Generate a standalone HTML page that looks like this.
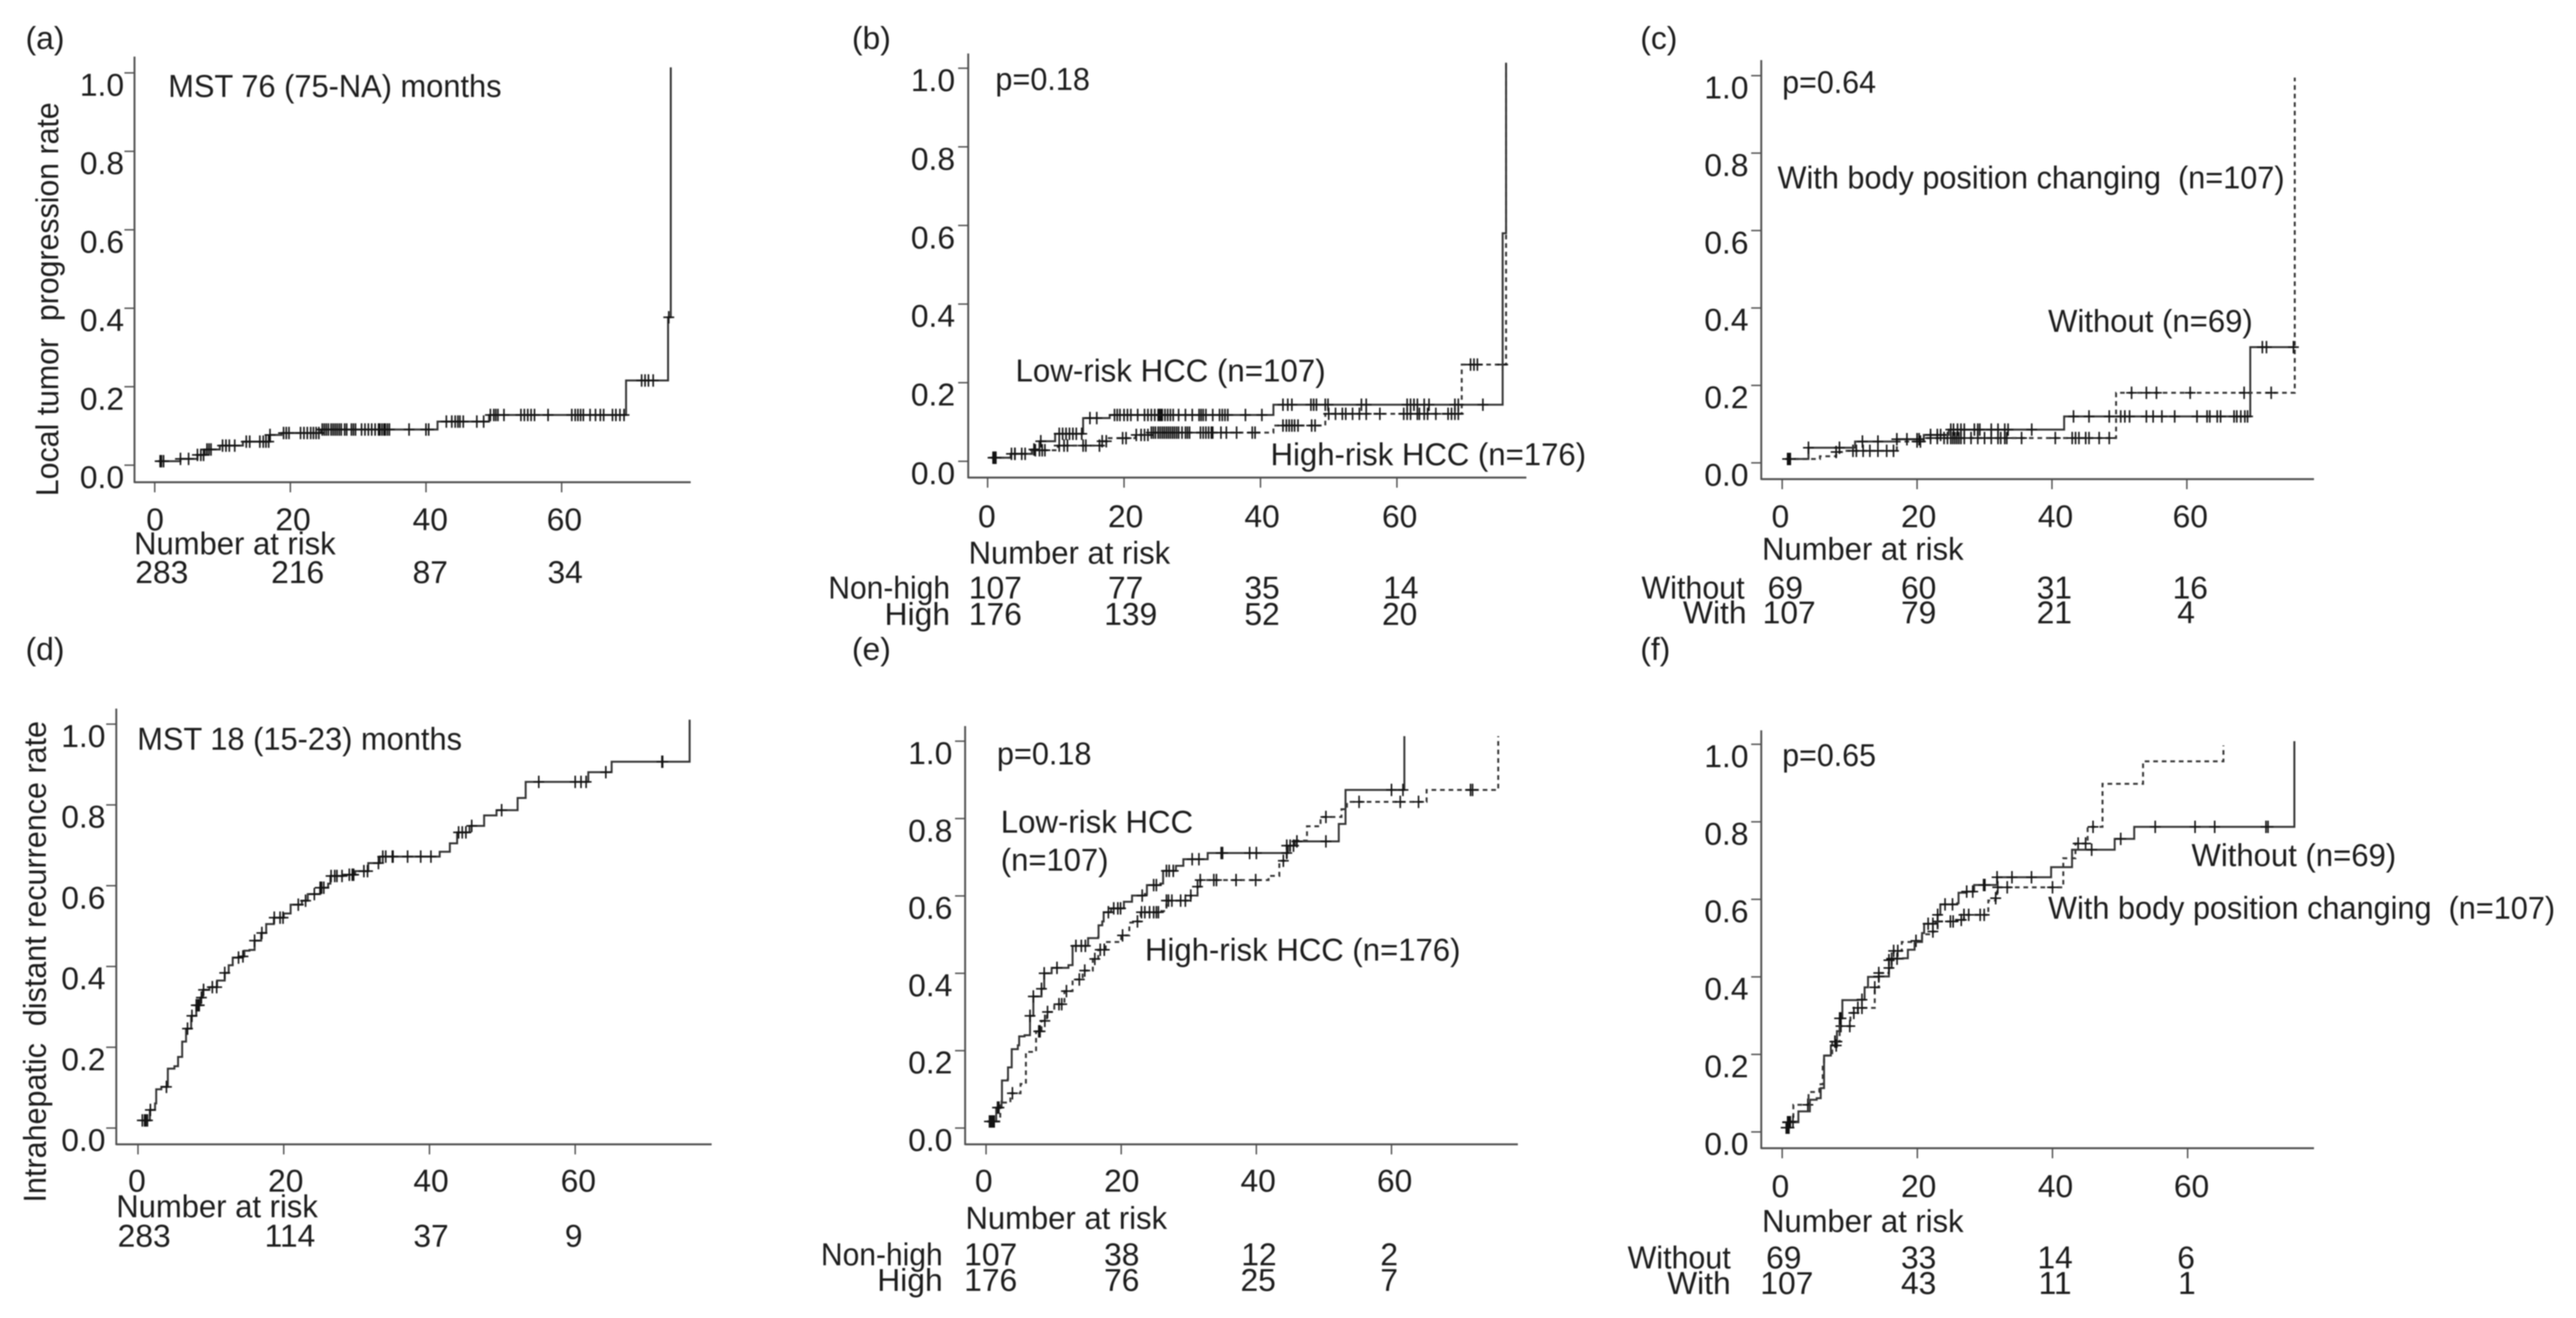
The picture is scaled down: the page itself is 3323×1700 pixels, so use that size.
<!DOCTYPE html>
<html lang="en">
<head>
<meta charset="utf-8">
<title>Cumulative incidence curves</title>
<style>
html,body{margin:0;padding:0;background:#fff;}
#figure{display:block;width:3323px;height:1700px;filter:blur(0.9px);}
text{font-family:"Liberation Sans",Arial,sans-serif;font-size:41px;fill:#1c1c1c;white-space:pre;}
</style>
</head>
<body>
<svg id="figure" xmlns="http://www.w3.org/2000/svg" width="3323" height="1700" viewBox="0 0 3323 1700">
  <rect width="3323" height="1700" fill="#fff"/>

  <text x="33" y="63">(a)</text>
  <text x="1099" y="63">(b)</text>
  <text x="2116" y="63">(c)</text>
  <text x="33" y="851">(d)</text>
  <text x="1099" y="851">(e)</text>
  <text x="2116" y="851">(f)</text>

  <text transform="translate(75,640) rotate(-90)" textLength="508" lengthAdjust="spacingAndGlyphs">Local tumor  progression rate</text>
  <text transform="translate(59,1551) rotate(-90)" textLength="621" lengthAdjust="spacingAndGlyphs">Intrahepatic  distant recurrence rate</text>

  <text x="217" y="125" textLength="430" lengthAdjust="spacingAndGlyphs">MST 76 (75-NA) months</text>
  <text x="1284" y="116" textLength="122" lengthAdjust="spacingAndGlyphs">p=0.18</text>
  <text x="1310" y="492" textLength="400" lengthAdjust="spacingAndGlyphs">Low-risk HCC (n=107)</text>
  <text x="1639" y="600" textLength="407" lengthAdjust="spacingAndGlyphs">High-risk HCC (n=176)</text>
  <text x="2299" y="120" textLength="121" lengthAdjust="spacingAndGlyphs">p=0.64</text>
  <text x="2293" y="243" textLength="654" lengthAdjust="spacingAndGlyphs">With body position changing  (n=107)</text>
  <text x="2642" y="428" textLength="264" lengthAdjust="spacingAndGlyphs">Without (n=69)</text>
  <text x="177" y="967" textLength="419" lengthAdjust="spacingAndGlyphs">MST 18 (15-23) months</text>
  <text x="1286" y="986" textLength="122" lengthAdjust="spacingAndGlyphs">p=0.18</text>
  <text x="1291" y="1074" textLength="248" lengthAdjust="spacingAndGlyphs">Low-risk HCC</text>
  <text x="1291" y="1123" textLength="139" lengthAdjust="spacingAndGlyphs">(n=107)</text>
  <text x="1477" y="1239" textLength="407" lengthAdjust="spacingAndGlyphs">High-risk HCC (n=176)</text>
  <text x="2299" y="988" textLength="121" lengthAdjust="spacingAndGlyphs">p=0.65</text>
  <text x="2827" y="1117" textLength="264" lengthAdjust="spacingAndGlyphs">Without (n=69)</text>
  <text x="2642" y="1185" textLength="654" lengthAdjust="spacingAndGlyphs">With body position changing  (n=107)</text>
</svg>

<script>
// Shared axis values
const xTickValues = [0, 20, 40, 60];
const xTickLabels = ['0', '20', '40', '60'];
const yTickValues = [0, 0.2, 0.4, 0.6, 0.8, 1];
const yTickLabels = ['0.0', '0.2', '0.4', '0.6', '0.8', '1.0'];

// Panel (a)
const aTimes = [0.5, 3.8, 6.3, 7.4, 9.6, 13, 17, 18.7, 24.5, 41.7, 49.3, 69.5, 75.7, 76.1];
const aRates = [0.01, 0.016, 0.026, 0.04, 0.05, 0.06, 0.077, 0.082, 0.091, 0.111, 0.128, 0.216, 0.377, 1.014];
const aCensored = [0.8, 1, 1.3, 3.8, 5, 6.3, 6.8, 7.2, 7.7, 8, 8.3, 10, 10.5, 11, 11.8, 13.5, 14, 15.5, 16, 16.4, 16.8, 17, 19, 19.4, 19.8, 21.5, 22, 22.5, 23, 23.4, 23.8, 24.2, 24.7, 25, 25.3, 25.6, 26, 26.3, 26.6, 26.9, 27.2, 27.5, 28, 28.3, 29, 29.3, 29.6, 30.5, 31, 31.5, 32, 32.5, 33, 33.2, 33.5, 33.8, 34, 34.3, 34.6, 37.5, 40, 40.4, 43, 43.8, 44.3, 44.7, 45, 45.5, 47.5, 48.5, 49.5, 50, 50.3, 50.6, 51.5, 54, 54.5, 55, 55.5, 56, 58, 61.5, 62, 62.4, 62.8, 63.2, 64.2, 65, 65.7, 66.2, 67.5, 68, 68.6, 69.2, 71.8, 72.3, 72.8, 73.5, 75.8];
const aRisk = [283, 216, 87, 34];

// Panel (b)
const bLowTimes = [0.5, 3.4, 6.5, 7.6, 9.9, 14, 17.9, 41.9, 75.5, 76];
const bLowRates = [0.009, 0.019, 0.03, 0.051, 0.07, 0.11, 0.118, 0.144, 0.58, 1.014];
const bLowCensored = [0.8, 1, 1.2, 3.5, 4, 5, 6.8, 7.8, 10.5, 11, 11.5, 12, 12.5, 13, 13.8, 15, 16, 18.6, 19, 19.4, 20, 20.5, 21, 22, 23, 23.5, 24, 24.5, 25, 25.2, 25.4, 25.6, 26, 26.4, 26.8, 27.2, 28, 29, 30, 31, 31.3, 31.6, 32, 33, 34, 34.4, 34.8, 35.2, 37.8, 40.2, 43.3, 44, 44.6, 47.4, 47.8, 48.2, 49.5, 49.9, 54.8, 55.5, 61.5, 62, 62.5, 63, 64, 64.7, 68.5, 69, 72.6];
const bHighTimes = [0.5, 3.4, 6.5, 10.3, 16.8, 17.5, 21.7, 24, 41.9, 49.5, 69.5, 76];
const bHighRates = [0.009, 0.019, 0.028, 0.04, 0.051, 0.059, 0.067, 0.073, 0.091, 0.121, 0.246, 1.014];
const bHighCensored = [1, 1.2, 4, 5.5, 7, 7.6, 8, 8.4, 10.5, 11.2, 11.7, 14, 14.4, 16.4, 16.8, 17.4, 19.8, 20.3, 21.8, 22.5, 23, 23.5, 24, 24.3, 24.6, 25, 25.3, 25.6, 25.9, 26.2, 26.5, 26.8, 27.1, 27.4, 27.7, 28, 28.5, 29, 29.3, 29.6, 31.2, 31.6, 32, 32.4, 32.8, 33, 34.2, 35, 36.5, 38.8, 39.2, 43.3, 43.8, 44.2, 44.6, 45, 45.5, 47.5, 48, 50, 51, 52, 52.5, 53.5, 54.5, 55.5, 57.5, 61, 61.5, 62, 63, 63.3, 64, 64.5, 65.7, 67.5, 68, 68.5, 69, 70.8, 71.3, 71.8, 75.5];
const bRiskLow = [107, 77, 35, 14];
const bRiskHigh = [176, 139, 52, 20];

// Panel (c)
const cWithoutTimes = [0.5, 3.9, 10.8, 17, 21, 24.7, 41.8, 69.4, 76.2];
const cWithoutRates = [0.01, 0.039, 0.055, 0.061, 0.072, 0.086, 0.12, 0.299, 0.299];
const cWithoutCensored = [1, 1.2, 3.9, 8.5, 11.9, 14.2, 17, 18.5, 20, 20.3, 22, 23, 23.5, 25, 25.4, 26, 26.5, 27, 28.5, 29, 29.3, 31, 32, 33, 33.5, 37, 43.2, 45.5, 48.5, 50.2, 50.8, 51.5, 54, 55, 56.3, 58.2, 61.5, 63, 63.4, 64.5, 65, 67, 67.4, 68, 68.6, 69, 71.2, 71.8, 75.8];
const cWithTimes = [0.5, 5.6, 8, 9.4, 17, 21, 49.5, 76];
const cWithRates = [0.01, 0.017, 0.028, 0.031, 0.055, 0.064, 0.181, 0.995];
const cWithCensored = [0.8, 1, 1.2, 8, 10.5, 11, 12, 13, 14.2, 15.5, 16.5, 20, 20.5, 22, 23, 24, 24.5, 25, 25.3, 25.6, 25.9, 26.2, 26.5, 27, 28, 29, 30, 31, 32, 32.4, 33, 33.3, 35.5, 40.5, 43, 43.5, 44, 45, 45.5, 47, 48.5, 51.8, 54, 55.5, 60.5, 68.5, 72.5];
const cRiskWithout = [69, 60, 31, 16];
const cRiskWith = [107, 79, 21, 4];

// Panel (d)
const dTimes = [0.57, 1.63, 2.34, 2.5, 3.2, 4.1, 5, 5.5, 6.06, 6.6, 7.3, 8, 8.55, 8.9, 9.8, 10.85, 11.9, 12.45, 13, 14.2, 14.6, 15.3, 16, 16.9, 17.6, 18.65, 20, 20.95, 22.5, 23.3, 25, 26.1, 26.4, 28.2, 29.8, 31.6, 33.2, 41.4, 42.8, 43.8, 45.5, 47.5, 49.2, 52.1, 53.2, 61.8, 65, 75.7];
const dRates = [0.019, 0.045, 0.061, 0.096, 0.102, 0.147, 0.153, 0.176, 0.214, 0.246, 0.278, 0.304, 0.323, 0.342, 0.349, 0.365, 0.384, 0.403, 0.422, 0.425, 0.439, 0.441, 0.464, 0.483, 0.505, 0.521, 0.531, 0.553, 0.563, 0.579, 0.595, 0.605, 0.624, 0.627, 0.636, 0.656, 0.672, 0.684, 0.705, 0.732, 0.748, 0.774, 0.787, 0.817, 0.857, 0.881, 0.907, 1.011];
const dCensored = [0.6, 0.9, 1.1, 1.3, 1.7, 3.9, 6.8, 7.4, 8, 8.2, 8.4, 8.7, 9, 10.2, 10.8, 11.9, 13.8, 14.4, 16, 17, 18.7, 19.5, 19.9, 22, 23, 24.2, 25, 25.2, 25.5, 26.5, 27, 27.3, 28, 29, 29.4, 29.6, 31, 31.5, 33, 33.6, 34, 34.9, 35, 37, 38.8, 40.2, 44, 44.5, 45, 45.8, 49.9, 55, 60, 60.8, 61.5, 64.2, 71.9, 72];
const dRisk = [283, 114, 37, 9];

// Panel (e)
const eLowTimes = [0.15, 1.5, 2.3, 2.35, 3.2, 3.25, 3.8, 4.7, 4.9, 5.7, 6.5, 7, 8.2, 8.6, 9.7, 12.2, 12.8, 15.1, 16.6, 16.65, 17.2, 17.4, 18.5, 20.4, 21.6, 23.5, 23.8, 25.8, 26.2, 28.1, 29.2, 32.8, 44.7, 45.7, 52.2, 53.2, 61.9];
const eLowRates = [0.017, 0.053, 0.069, 0.123, 0.126, 0.157, 0.204, 0.214, 0.237, 0.24, 0.29, 0.34, 0.36, 0.4, 0.414, 0.421, 0.471, 0.491, 0.494, 0.524, 0.534, 0.558, 0.568, 0.585, 0.601, 0.605, 0.628, 0.632, 0.665, 0.678, 0.695, 0.711, 0.73, 0.741, 0.786, 0.874, 1.013];
const eLowCensored = [0.7, 1, 1.2, 1.7, 1.9, 6.5, 7, 8.2, 8.6, 10.5, 13.3, 14.1, 14.7, 18.1, 18.9, 19.5, 19.9, 23.1, 24.8, 25.2, 26.7, 27.1, 27.7, 30.5, 31.5, 34.8, 35, 39, 40, 44.5, 45, 45.5, 46, 50.3, 60, 61.7];
const eHighTimes = [0.15, 2.1, 3.6, 5.1, 5.9, 7.4, 8.2, 9, 10.1, 11.6, 12.8, 14.3, 15.8, 16.6, 17.7, 20, 21.2, 22.3, 22.9, 25.8, 26.7, 30.3, 31.3, 31.7, 41.8, 43.4, 44.5, 45.7, 47.5, 49.5, 52.6, 53.4, 65.2, 75.8];
const eHighRates = [0.017, 0.066, 0.09, 0.114, 0.197, 0.25, 0.277, 0.3, 0.32, 0.354, 0.384, 0.407, 0.437, 0.461, 0.481, 0.498, 0.531, 0.534, 0.558, 0.561, 0.588, 0.601, 0.624, 0.641, 0.652, 0.691, 0.73, 0.743, 0.78, 0.804, 0.824, 0.843, 0.874, 1.013];
const eHighCensored = [0.5, 0.8, 1, 3.9, 7.8, 8, 8.7, 9.1, 10.8, 11.2, 11.9, 13.8, 14.6, 16.1, 16.9, 17.5, 20.2, 22.4, 23, 23.5, 24.2, 24.8, 25.2, 25.5, 26.7, 27, 27.5, 28.8, 29.5, 30.3, 31.3, 31.7, 33.7, 34.1, 37, 39.9, 44, 44.5, 50.3, 55.2, 61.3, 64, 71.7, 72];
const eRiskLow = [107, 38, 12, 2];
const eRiskHigh = [176, 76, 25, 7];

// Panel (f)
const fWithoutTimes = [0.1, 2.4, 4.1, 5.1, 5.7, 6.2, 7.2, 8.1, 8.5, 8.9, 11.2, 12.2, 12.7, 14.3, 15.8, 16.2, 17.9, 18.6, 19.6, 20.7, 21, 22.7, 23, 23.4, 25.9, 26.1, 27.3, 28.4, 31.8, 39.8, 42.9, 49.2, 52.1, 75.8];
const fWithoutRates = [0.025, 0.053, 0.083, 0.087, 0.113, 0.197, 0.223, 0.26, 0.293, 0.34, 0.341, 0.373, 0.4, 0.401, 0.423, 0.447, 0.448, 0.47, 0.49, 0.513, 0.537, 0.54, 0.56, 0.587, 0.59, 0.617, 0.62, 0.637, 0.657, 0.683, 0.728, 0.756, 0.787, 1.008];
const fWithoutCensored = [0.8, 1, 1.2, 8, 8.5, 8.7, 11.8, 14.3, 15.8, 16.2, 17, 21.6, 22.3, 23, 24.1, 25.2, 27.3, 28.2, 29.8, 30, 31.8, 34, 36.9, 45.8, 50.1, 55.2, 61.1, 64, 71.6, 71.9];
const fWithTimes = [0.6, 1.07, 1.65, 3.9, 5.5, 6, 6.2, 7.4, 8.5, 10.1, 11.2, 13.7, 14.3, 15.8, 16.5, 17.7, 19.8, 20.7, 22.3, 23, 25.7, 26.9, 30.5, 31.6, 31.8, 41.6, 43.4, 45.2, 47.4, 53.4, 65.3];
const fWithRates = [0.011, 0.027, 0.07, 0.103, 0.123, 0.18, 0.197, 0.233, 0.273, 0.307, 0.32, 0.373, 0.41, 0.443, 0.467, 0.49, 0.493, 0.51, 0.517, 0.543, 0.547, 0.56, 0.597, 0.603, 0.631, 0.706, 0.744, 0.787, 0.898, 0.956, 0.997];
const fWithCensored = [0.6, 0.8, 1, 1.6, 3.8, 7.8, 8.1, 8.7, 10, 10.6, 11.2, 11.8, 13.7, 14.3, 15.8, 16.5, 17.1, 19.8, 22.3, 23, 24.9, 25.3, 26.5, 26.9, 27.6, 29.3, 29.9, 31.6, 31.9, 33.3, 40, 43.8, 44.9, 46];
const fRiskWithout = [69, 33, 14, 6];
const fRiskWith = [107, 43, 11, 1];

const svgNS = 'http://www.w3.org/2000/svg';
const svgRoot = document.getElementById('figure');
const INK = '#333333';
const AXIS_INK = '#4d4d4d';

function makeLine(parent, x1, y1, x2, y2, width) {
  const el = document.createElementNS(svgNS, 'line');
  el.setAttribute('x1', x1);
  el.setAttribute('y1', y1);
  el.setAttribute('x2', x2);
  el.setAttribute('y2', y2);
  el.setAttribute('stroke', AXIS_INK);
  el.setAttribute('stroke-width', width);
  parent.appendChild(el);
  return el;
}

function makeText(parent, str, x, y, anchor) {
  const el = document.createElementNS(svgNS, 'text');
  el.setAttribute('x', x);
  el.setAttribute('y', y);
  el.setAttribute('text-anchor', anchor);
  el.textContent = str;
  parent.appendChild(el);
  return el;
}

function rateAt(times, rates, t) {
  let r = rates[0];
  for (let i = 0; i < times.length; i++) {
    if (times[i] <= t) r = rates[i];
  }
  return r;
}

function drawSeries(group, times, rates, censored, xs, ys, dashed, seriesName) {
  let d = 'M' + xs(times[0]).toFixed(1) + ' ' + ys(rates[0]).toFixed(1);
  for (let i = 1; i < times.length; i++) {
    d += 'H' + xs(times[i]).toFixed(1) + 'V' + ys(rates[i]).toFixed(1);
  }
  const path = document.createElementNS(svgNS, 'path');
  
  
  path.setAttribute('d', d);
  path.setAttribute('fill', 'none');
  path.setAttribute('stroke', INK);
  path.setAttribute('stroke-width', '2.5');
  if (dashed) path.setAttribute('stroke-dasharray', '6 5');
  group.appendChild(path);

  censored.forEach(function (t) {
    const cx = xs(t);
    const cy = ys(rateAt(times, rates, t));
    const mark = document.createElementNS(svgNS, 'path');
    
    
    mark.setAttribute('d', 'M' + (cx - 7).toFixed(1) + ' ' + cy.toFixed(1) + 'h14M' + cx.toFixed(1) + ' ' + (cy - 8).toFixed(1) + 'v16');
    mark.setAttribute('stroke', '#111');
    mark.setAttribute('stroke-width', '2');
    mark.setAttribute('fill', 'none');
    group.appendChild(mark);
  });
}

function drawPanel(cfg) {
  const group = document.createElementNS(svgNS, 'g');
  
  
  svgRoot.appendChild(group);

  const xs = function (t) { return cfg.x0 + (cfg.x60 - cfg.x0) * t / 60; };
  const ys = function (r) { return cfg.y0 + (cfg.y1 - cfg.y0) * r; };

  const yAxis = makeLine(group, cfg.axisX, cfg.axisTop, cfg.axisX, cfg.axisY + 1, 2.4);
  
  
  const xAxis = makeLine(group, cfg.axisX, cfg.axisY, cfg.axisRight, cfg.axisY, 2.4);
  
  

  yTickValues.forEach(function (v, i) {
    const tick = makeLine(group, cfg.axisX - 13, ys(v), cfg.axisX, ys(v), 1.8);
    
    
    const lab = makeText(group, yTickLabels[i], cfg.yLabelRight + 1, ys(v) + 29.5, 'end');
    
    
  });

  xTickValues.forEach(function (v, i) {
    const tick = makeLine(group, xs(v), cfg.axisY, xs(v), cfg.axisY + 13, 1.8);
    
    
    const lab = makeText(group, xTickLabels[i], cfg.xLabelCx[i], cfg.xLabelY, 'middle');
    
    
  });

  const title = makeText(group, 'Number at risk', cfg.riskTitleX, cfg.riskTitleY, 'start');
  
  
  title.setAttribute('textLength', '260');
  title.setAttribute('lengthAdjust', 'spacingAndGlyphs');

  cfg.rows.forEach(function (row) {
    if (row.label) {
      const rowLabel = makeText(group, row.label, row.labelRight, row.y, 'end');
      
      
      if (row.labelWidth) {
        rowLabel.setAttribute('textLength', row.labelWidth);
        rowLabel.setAttribute('lengthAdjust', 'spacingAndGlyphs');
      }
    }
    row.values.forEach(function (v, i) {
      const cell = makeText(group, String(v), row.cx[i], row.y, 'middle');
      
      
    });
  });

  cfg.series.forEach(function (s) {
    drawSeries(group, s.times, s.rates, s.censored, xs, ys, s.dashed, s.name);
  });
}

drawPanel({
  id: 'a', x0: 199.6, x60: 724.5, y0: 600, y1: 94,
  axisX: 173.5, axisTop: 73, axisY: 622, axisRight: 891,
  yLabelRight: 159, xLabelY: 684, xLabelCx: [200, 378, 555, 728],
  riskTitleX: 173, riskTitleY: 715,
  rows: [{ values: aRisk, y: 752, cx: [208.7, 384, 555, 729] }],
  series: [{ name: 'all-patients-a', times: aTimes, rates: aRates, censored: aCensored, dashed: false }]
});

drawPanel({
  id: 'b', x0: 1274, x60: 1802, y0: 595, y1: 88,
  axisX: 1249, axisTop: 69, axisY: 616, axisRight: 1969,
  yLabelRight: 1231, xLabelY: 680, xLabelCx: [1273, 1452, 1628, 1805.5],
  riskTitleX: 1249.5, riskTitleY: 727,
  rows: [
    { label: 'Non-high', labelRight: 1225.5, labelWidth: 157, values: bRiskLow, y: 772, cx: [1284, 1452, 1628, 1807] },
    { label: 'High', labelRight: 1225.5, values: bRiskHigh, y: 806, cx: [1284, 1458.6, 1628, 1805.5] }
  ],
  series: [
    { name: 'high-risk-b', times: bHighTimes, rates: bHighRates, censored: bHighCensored, dashed: true },
    { name: 'low-risk-b', times: bLowTimes, rates: bLowRates, censored: bLowCensored, dashed: false }
  ]
});

drawPanel({
  id: 'c', x0: 2299, x60: 2821, y0: 597, y1: 97.6,
  axisX: 2272, axisTop: 77.5, axisY: 618, axisRight: 2985,
  yLabelRight: 2254.5, xLabelY: 680, xLabelCx: [2296.6, 2475, 2651.5, 2825.4],
  riskTitleX: 2273, riskTitleY: 722,
  rows: [
    { label: 'Without', labelRight: 2250.5, labelWidth: 133, values: cRiskWithout, y: 772, cx: [2303, 2475, 2650, 2825.4] },
    { label: 'With', labelRight: 2253, values: cRiskWith, y: 804, cx: [2308, 2475, 2650, 2820] }
  ],
  series: [
    { name: 'with-position-change-c', times: cWithTimes, rates: cWithRates, censored: cWithCensored, dashed: true },
    { name: 'without-position-change-c', times: cWithoutTimes, rates: cWithoutRates, censored: cWithoutCensored, dashed: false }
  ]
});

drawPanel({
  id: 'd', x0: 178, x60: 742, y0: 1455, y1: 934,
  axisX: 150, axisTop: 914, axisY: 1476, axisRight: 918,
  yLabelRight: 135, xLabelY: 1537, xLabelCx: [176.7, 368.6, 556, 746],
  riskTitleX: 150, riskTitleY: 1570,
  rows: [{ values: dRisk, y: 1608, cx: [186, 374, 556, 740] }],
  series: [{ name: 'all-patients-d', times: dTimes, rates: dRates, censored: dCensored, dashed: false }]
});

drawPanel({
  id: 'e', x0: 1272, x60: 1795, y0: 1455, y1: 956,
  axisX: 1245, axisTop: 936.5, axisY: 1476, axisRight: 1958,
  yLabelRight: 1227.5, xLabelY: 1537, xLabelCx: [1269, 1447, 1623, 1799],
  riskTitleX: 1245.5, riskTitleY: 1585,
  rows: [
    { label: 'Non-high', labelRight: 1216, labelWidth: 157, values: eRiskLow, y: 1632, cx: [1278, 1447, 1624, 1792] },
    { label: 'High', labelRight: 1216, values: eRiskHigh, y: 1665, cx: [1278, 1447, 1623, 1792] }
  ],
  series: [
    { name: 'high-risk-e', times: eHighTimes, rates: eHighRates, censored: eHighCensored, dashed: true },
    { name: 'low-risk-e', times: eLowTimes, rates: eLowRates, censored: eLowCensored, dashed: false }
  ]
});

drawPanel({
  id: 'f', x0: 2299, x60: 2822, y0: 1460, y1: 960,
  axisX: 2272, axisTop: 942, axisY: 1481, axisRight: 2985,
  yLabelRight: 2254.5, xLabelY: 1544, xLabelCx: [2296.6, 2475, 2651.5, 2827],
  riskTitleX: 2273, riskTitleY: 1589,
  rows: [
    { label: 'Without', labelRight: 2232.6, labelWidth: 133, values: fRiskWithout, y: 1636, cx: [2301, 2475, 2651, 2820] },
    { label: 'With', labelRight: 2232.6, values: fRiskWith, y: 1669, cx: [2305, 2475, 2651, 2821] }
  ],
  series: [
    { name: 'with-position-change-f', times: fWithTimes, rates: fWithRates, censored: fWithCensored, dashed: true },
    { name: 'without-position-change-f', times: fWithoutTimes, rates: fWithoutRates, censored: fWithoutCensored, dashed: false }
  ]
});
</script>
</body>
</html>
